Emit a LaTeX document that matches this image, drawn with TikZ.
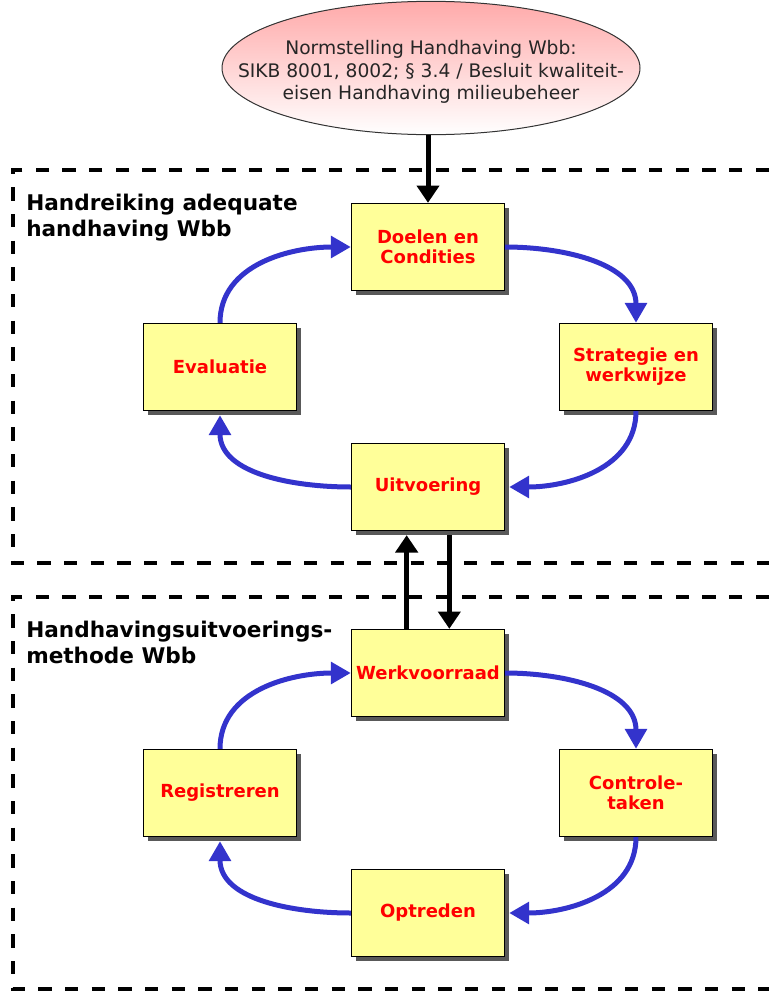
\documentclass[tikz,border=0pt]{standalone}
\usepackage{fontspec}
\setmainfont{DejaVu Sans}
\usetikzlibrary{positioning,shapes.geometric,arrows.meta,shadows}
\definecolor{boxyellow}{HTML}{FFFF99}
\definecolor{cycleblue}{HTML}{3333CC}
\definecolor{ovalpink}{HTML}{FFAAAA}
\tikzset{
  stagebox/.style={draw=black, line width=1pt, fill=boxyellow, inner sep=1pt,
    minimum width=114.75pt, minimum height=65.25pt, align=center, text=red,
    font=\bfseries\fontsize{13.5}{15}\selectfont,
    drop shadow={shadow xshift=3pt, shadow yshift=-3pt, fill=black!65, opacity=1}},
  cyclearrow/.style={draw=cycleblue, line width=3.75pt, -{Triangle[length=15pt,width=16pt]}},
  feedarrow/.style={draw=black, line width=3.75pt, -{Triangle[length=13pt,width=16.5pt]}},
  zonedash/.style={line width=3.25pt, dash pattern=on 10pt off 10pt},
  zonetitle/.style={anchor=north west, inner sep=0pt, align=left,
    font=\bfseries\fontsize{16.2}{19.5}\selectfont}
}
\begin{document}
\begin{tikzpicture}[x=0.75pt,y=-0.75pt]
\useasboundingbox (0,0) rectangle (769,992);
% Dashed zones
\draw[zonedash] (769,170) -- (13,170) -- (13,563) -- (769,563);
\draw[zonedash] (769,597) -- (13,597) -- (13,989) -- (769,989);
\node[zonetitle] (toptitle) at (26,194) {Handreiking adequate\\handhaving Wbb};
\node[zonetitle] (bottomtitle) at (26,621) {Handhavingsuitvoerings-\\methode Wbb};
% Norm ellipse
\node[ellipse, draw=black!80, line width=0.75pt, top color=ovalpink, bottom color=white,
  minimum width=313.5pt, minimum height=100pt, inner sep=0pt] (norm) at (431,68) {};
\node[align=center, inner sep=0pt, text=black!85, font=\fontsize{14}{17}\selectfont]
  (normtext) at ([yshift=-3pt]norm.center)
  {Normstelling Handhaving Wbb:\\SIKB 8001, 8002; § 3.4 / Besluit kwaliteit-\\eisen Handhaving milieubeheer};
% Upper cycle
\node[stagebox] (doelen) at (428,247) {Doelen en\\Condities};
\node[stagebox] (strategie) at (636,367) {Strategie en\\werkwijze};
\node[stagebox] (uitvoering) at (428,487) {Uitvoering};
\node[stagebox] (evaluatie) at (220,367) {Evaluatie};
% Lower cycle
\node[stagebox] (werk) at (428,673) {Werkvoorraad};
\node[stagebox] (controle) at (636,793) {Controle-\\taken};
\node[stagebox] (optreden) at (428,913) {Optreden};
\node[stagebox] (registreren) at (220,793) {Registreren};
% Black links
\draw[feedarrow] (norm.south -| doelen.north) -- (doelen.north);
\draw[feedarrow] ([xshift=-16pt]werk.north) -- ([xshift=-16pt,yshift=-3pt]uitvoering.south);
\draw[feedarrow] ([xshift=16pt,yshift=-3pt]uitvoering.south) -- ([xshift=16pt]werk.north);
% Blue cycles
\draw[cyclearrow] (doelen.east) to[out=0,in=90] (strategie.north);
\draw[cyclearrow] (strategie.south) to[out=-90,in=0] ([xshift=3pt]uitvoering.east);
\draw[cyclearrow] (uitvoering.west) to[out=180,in=-90] ([yshift=-3pt]evaluatie.south);
\draw[cyclearrow] (evaluatie.north) to[out=90,in=180] (doelen.west);
\draw[cyclearrow] (werk.east) to[out=0,in=90] (controle.north);
\draw[cyclearrow] (controle.south) to[out=-90,in=0] ([xshift=3pt]optreden.east);
\draw[cyclearrow] (optreden.west) to[out=180,in=-90] ([yshift=-3pt]registreren.south);
\draw[cyclearrow] (registreren.north) to[out=90,in=180] (werk.west);
\end{tikzpicture}
\end{document}
